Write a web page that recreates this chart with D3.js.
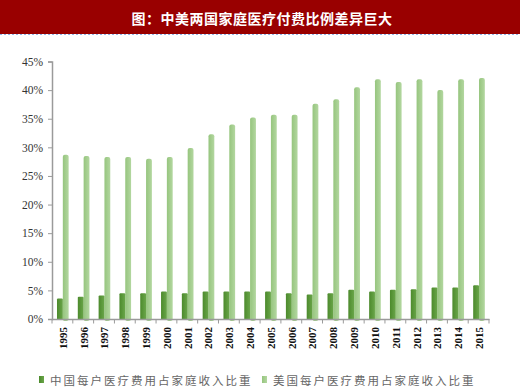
<!DOCTYPE html>
<html><head><meta charset="utf-8">
<script src="https://cdn.jsdelivr.net/npm/d3@7"></script>
<style>html,body{margin:0;padding:0;background:#fff;}svg{display:block;}</style>
</head><body>
<script>
const title = "图：中美两国家庭医疗付费比例差异巨大";
const years = ["1995","1996","1997","1998","1999","2000","2001","2002","2003","2004","2005","2006","2007","2008","2009","2010","2011","2012","2013","2014","2015"];
const chinaShare = [3.6,3.9,4.1,4.5,4.5,4.8,4.5,4.8,4.8,4.8,4.8,4.5,4.3,4.5,5.1,4.8,5.1,5.2,5.5,5.5,5.9];
const usShare = [28.7,28.5,28.3,28.3,28.0,28.3,29.9,32.3,34.0,35.2,35.7,35.7,37.6,38.4,40.5,41.9,41.4,41.9,40.0,41.9,42.1];
const seriesNames = ["中国每户医疗费用占家庭收入比重","美国每户医疗费用占家庭收入比重"];
const yTicks = [0,5,10,15,20,25,30,35,40,45];

const W = 520, H = 391;
const svg = d3.select("body").append("svg").attr("width", W).attr("height", H);
const defs = svg.append("defs");
function grad(id, c1, c2){
  const g = defs.append("linearGradient").attr("id", id).attr("x1","0").attr("x2","1").attr("y1","0").attr("y2","0");
  g.append("stop").attr("offset","0").attr("stop-color", c1);
  g.append("stop").attr("offset","1").attr("stop-color", c2);
}
grad("gcn", "#4c8a2c", "#6aa64a");
grad("gus", "#96c57e", "#b3d7a0");

// title bar
svg.append("rect").attr("x",0).attr("y",0).attr("width",W).attr("height",34).attr("fill","#990000");
svg.append("line").attr("x1",0).attr("x2",W).attr("y1",34.5).attr("y2",34.5)
  .attr("stroke","#8fb4ea").attr("stroke-width",1).attr("stroke-dasharray","2,2");
svg.append("text").attr("x",262).attr("y",18).attr("text-anchor","middle").attr("dominant-baseline","central")
  .attr("fill","#fff").attr("font-family","'Noto Sans CJK SC'").attr("font-weight","bold")
  .attr("font-size","14px").attr("letter-spacing","0.5px").text(title);

const x0 = d3.scaleBand().domain(years).range([52, 489]).padding(0);
const bw = x0.bandwidth();
const x1 = d3.scaleBand().domain(["cn","us"]).range([bw*0.24, bw*0.8]).padding(0);
const y = d3.scaleLinear().domain([0,45]).range([319, 61.5]);

const data = years.map((yr,i)=>({year:yr, cn:chinaShare[i], us:usShare[i]}));

// bars
const g = svg.append("g");
const groups = g.selectAll("g.grp").data(data).enter().append("g")
  .attr("transform", d=>`translate(${x0(d.year)},0)`);
groups.append("rect").attr("x", x1("us")).attr("width", x1.bandwidth())
  .attr("y", d=>y(d.us)).attr("height", d=>y(0)-y(d.us)+2).attr("rx",2)
  .attr("fill","url(#gus)");
groups.append("rect").attr("x", x1("cn")).attr("width", x1.bandwidth())
  .attr("y", d=>y(d.cn)).attr("height", d=>y(0)-y(d.cn)+1).attr("rx",1)
  .attr("fill","url(#gcn)");

// y axis
const yAxis = d3.axisLeft(y).tickValues(yTicks).tickSize(4).tickPadding(5).tickFormat(d=>d+"%");
const ya = svg.append("g").attr("transform","translate(52,0)").call(yAxis);
ya.select(".domain").attr("stroke","#9a9a9a").attr("stroke-width",1.5);
ya.selectAll(".tick line").attr("stroke","#9a9a9a");
ya.selectAll(".tick text").attr("font-family","'Liberation Serif'").attr("font-size","11.5px").attr("fill","#333");

// x axis
svg.append("line").attr("x1",52).attr("x2",489.5).attr("y1",319.5).attr("y2",319.5)
  .attr("stroke","#9a9a9a").attr("stroke-width",1.5);
const bounds = years.map(yv=>x0(yv)).concat([x0(years[years.length-1])+bw]);
svg.selectAll("line.xt").data(bounds).enter().append("line")
  .attr("x1",d=>d).attr("x2",d=>d).attr("y1",319).attr("y2",323.5)
  .attr("stroke","#9a9a9a").attr("stroke-width",1);
svg.selectAll("text.yr").data(years).enter().append("text")
  .attr("transform", d=>`translate(${x0(d)+bw/2+0.5},327) rotate(-90)`)
  .attr("text-anchor","end").attr("dy","0.35em")
  .attr("font-family","'Liberation Serif'").attr("font-weight","bold").attr("font-size","11px")
  .attr("fill","#111").text(d=>d);

// legend
const legend = [{name:seriesNames[0], fill:"url(#gcn)", x:39},{name:seriesNames[1], fill:"url(#gus)", x:262}];
const lg = svg.selectAll("g.lg").data(legend).enter().append("g");
lg.append("rect").attr("x",d=>d.x).attr("y",376).attr("width",5).attr("height",7).attr("fill",d=>d.fill);
lg.append("text").attr("x",d=>d.x+11).attr("y",380).attr("dominant-baseline","central")
  .attr("font-family","'Noto Sans CJK SC'").attr("font-size","11.5px").attr("letter-spacing","2px")
  .attr("fill","#666").text(d=>d.name);
</script>
</body></html>
